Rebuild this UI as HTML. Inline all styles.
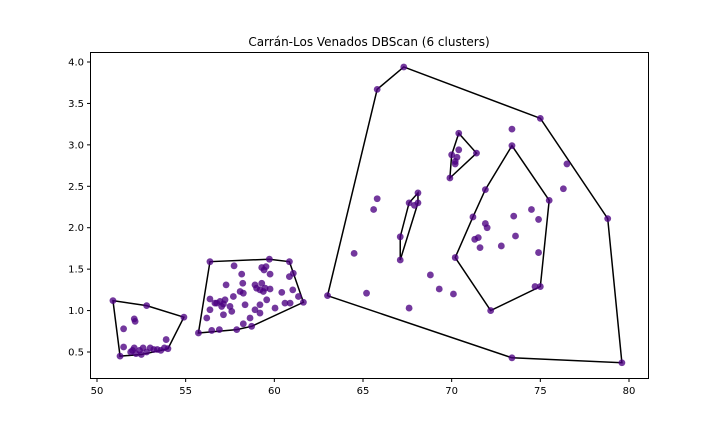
<!DOCTYPE html>
<html><head><meta charset="utf-8"><style>
html,body{margin:0;padding:0;background:#fff;}
svg{display:block;font-family:"DejaVu Sans","Liberation Sans",sans-serif;}
</style></head><body>
<svg id="chart" width="720" height="432" viewBox="0 0 720 432">
<text x="369" y="46" text-anchor="middle" font-size="12" fill="#000">Carrán-Los Venados DBScan (6 clusters)</text>
<g id="hulls"></g>
<g id="points"></g>
<rect x="90.5" y="52.5" width="558" height="326" fill="none" stroke="#000" stroke-width="1"/>
<g id="xticks"></g>
<g id="yticks"></g>
</svg>
<script>
const xTicks=[50,55,60,65,70,75,80];
const yTicks=[0.5,1.0,1.5,2.0,2.5,3.0,3.5,4.0];
const cluster0X=[50.9,52.8,54.9,54.0,51.3,51.5,52.1,52.15,51.5,51.9,52.0,52.2,52.4,52.6,52.8,53.0,53.2,53.4,53.6,53.8,53.9,52.5,52.1];
const cluster0Y=[1.12,1.06,0.92,0.54,0.45,0.78,0.9,0.87,0.56,0.5,0.52,0.48,0.52,0.55,0.5,0.55,0.53,0.53,0.52,0.55,0.65,0.47,0.55];
const cluster1X=[56.37,59.72,60.85,57.73,59.29,59.53,59.42,58.16,59.76,60.85,61.07,57.28,58.22,58.91,59.29,59.48,59.19,59.76,59.57,60.42,61.04,61.36,61.64,56.37,56.75,56.94,57.13,57.22,57.69,58.07,58.25,58.35,57.5,57.6,56.37,57.13,56.19,58.91,59.19,58.63,58.25,60.04,60.6,60.89,55.72,56.47,56.9,57.88,58.72,56.65,57.03,59.0,59.38,59.19];
const cluster1Y=[1.59,1.62,1.59,1.54,1.52,1.53,1.49,1.44,1.44,1.41,1.45,1.31,1.33,1.31,1.33,1.27,1.25,1.26,1.13,1.22,1.25,1.17,1.1,1.14,1.09,1.11,1.08,1.13,1.17,1.23,1.21,1.07,1.05,0.99,1.01,0.95,0.91,1.01,0.97,0.91,0.84,1.03,1.09,1.09,0.73,0.76,0.77,0.77,0.81,1.09,1.05,1.27,1.23,1.07];
const cluster2X=[63.0,65.8,67.3,75.0,78.8,79.6,73.4,73.4,76.5,76.3,65.6,65.8,64.5,65.2,67.6,68.8,69.3,70.1];
const cluster2Y=[1.18,3.67,3.94,3.32,2.11,0.37,0.43,3.19,2.77,2.47,2.22,2.35,1.69,1.21,1.03,1.43,1.26,1.2];
const cluster3X=[70.2,71.9,73.4,75.5,75.0,72.2,71.2,71.3,71.5,71.6,71.9,72.0,72.8,73.5,73.6,74.5,74.9,74.9,74.7];
const cluster3Y=[1.64,2.46,2.99,2.33,1.29,1.0,2.13,1.86,1.88,1.76,2.05,2.0,1.78,2.14,1.9,2.22,2.1,1.7,1.29];
const cluster4X=[69.9,70.0,70.4,71.4,70.2,70.3,70.4,70.2];
const cluster4Y=[2.6,2.88,3.14,2.9,2.8,2.85,2.94,2.77];
const cluster5X=[67.1,67.1,67.6,68.1,68.1,67.9];
const cluster5Y=[1.61,1.89,2.3,2.42,2.3,2.27];

const NS='http://www.w3.org/2000/svg';
const sx=v=>97+(v-50)*17.733;
const sy=v=>352-(v-0.5)*82.857;
const clusters=[[cluster0X,cluster0Y],[cluster1X,cluster1Y],[cluster2X,cluster2Y],[cluster3X,cluster3Y],[cluster4X,cluster4Y],[cluster5X,cluster5Y]];
function hull(pts){
  pts=pts.slice().sort((a,b)=>a[0]-b[0]||a[1]-b[1]);
  const cr=(o,a,b)=>(a[0]-o[0])*(b[1]-o[1])-(a[1]-o[1])*(b[0]-o[0]);
  const lo=[],up=[];
  for(const p of pts){while(lo.length>=2&&cr(lo[lo.length-2],lo[lo.length-1],p)<=0)lo.pop();lo.push(p);}
  for(let i=pts.length-1;i>=0;i--){const p=pts[i];while(up.length>=2&&cr(up[up.length-2],up[up.length-1],p)<=0)up.pop();up.push(p);}
  up.pop();lo.pop();return lo.concat(up);
}
const gP=document.getElementById('points'),gH=document.getElementById('hulls');
clusters.forEach((c,ci)=>{
  const pts=c[0].map((x,i)=>[x,c[1][i]]);
  pts.forEach(p=>{
    const el=document.createElementNS(NS,'circle');
    el.setAttribute('cx',sx(p[0]));el.setAttribute('cy',sy(p[1]));el.setAttribute('r',3.4);
    el.setAttribute('fill','rgba(75,0,130,0.78)');
    
    
    gP.appendChild(el);
  });
  const h=hull(pts);
  const pg=document.createElementNS(NS,'polygon');
  pg.setAttribute('points',h.map(p=>sx(p[0])+','+sy(p[1])).join(' '));
  pg.setAttribute('fill','none');pg.setAttribute('stroke','#000');pg.setAttribute('stroke-width','1.5');
  
  
  gH.appendChild(pg);
});
const gx=document.getElementById('xticks'),gy=document.getElementById('yticks');
xTicks.forEach(t=>{
  const l=document.createElementNS(NS,'line');
  l.setAttribute('x1',sx(t));l.setAttribute('x2',sx(t));l.setAttribute('y1',378.5);l.setAttribute('y2',382);l.setAttribute('stroke','#000');
  
  
  gx.appendChild(l);
  const tx=document.createElementNS(NS,'text');
  tx.setAttribute('x',sx(t));tx.setAttribute('y',394);tx.setAttribute('text-anchor','middle');tx.setAttribute('font-size','10');
  tx.textContent=t;
  
  
  gx.appendChild(tx);
});
yTicks.forEach(t=>{
  const l=document.createElementNS(NS,'line');
  l.setAttribute('x1',87);l.setAttribute('x2',90.5);l.setAttribute('y1',sy(t));l.setAttribute('y2',sy(t));l.setAttribute('stroke','#000');
  
  
  gy.appendChild(l);
  const tx=document.createElementNS(NS,'text');
  tx.setAttribute('x',84);tx.setAttribute('y',sy(t)+3.5);tx.setAttribute('text-anchor','end');tx.setAttribute('font-size','10');
  tx.textContent=t.toFixed(1);
  
  
  gy.appendChild(tx);
});
</script>
</body></html>
